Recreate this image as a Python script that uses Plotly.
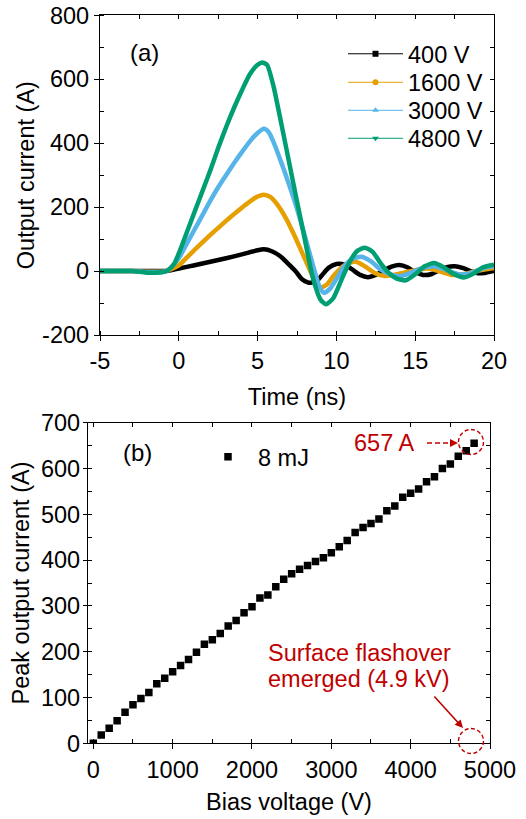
import plotly.graph_objects as go

W, H = 526, 819
FONT = "Liberation Sans, Arial, sans-serif"
RED = "#C00000"
FS = 23.5


def px(x):
    return x / W


def py(y):
    return 1 - y / H


# ---------------- data: panel (a) ----------------
t_400 = [-5, -4, -3, -2, -1, -0.77, 0, 1, 2, 3, 4, 5, 5.4, 5.9, 6.4, 6.9, 7.4, 7.8, 8.2, 8.7, 9.1,
         9.5, 10, 10.5, 11, 11.5, 12, 12.5, 13, 13.5, 14, 14.5, 15, 15.5, 16, 16.5, 17, 17.5, 18,
         18.5, 19, 19.5, 20]
i_400 = [0, 0, 0, 0, 0, 0, 8, 18, 29, 40, 52, 65, 68, 62, 48, 25, 0, -25, -36, -33, -12,
         10, 22, 20, 5, -12, -19, -12, 2, 14, 19, 12, -3, -12, -10, 2, 12, 15, 10,
         0, -7, -5, 0]

t_1600 = [-5, -4, -3, -2, -1, -0.7, 0, 0.5, 1, 1.5, 2, 2.5, 3, 3.5, 4, 4.5, 5, 5.4, 5.8, 6.3,
          6.8, 7.3, 7.8, 8.3, 8.7, 9, 9.4, 9.9, 10.5, 11.2, 11.8, 12.4, 13, 13.6, 14.3, 15,
          15.8, 16.5, 17.3, 18, 18.7, 19.4, 20]
i_1600 = [0, 0, 0, -2, -2, 2, 18, 42, 66, 90, 113, 135, 157, 178, 198, 217, 233, 239, 232, 205,
          165, 115, 60, 5, -38, -52, -42, -10, 18, 30, 15, -5, -15, -12, -5, 3,
          8, 0, -12, -10, -2, 5, 10]

t_3000 = [-5, -4, -3, -2, -1, -0.7, 0, 0.5, 1, 1.5, 2, 2.5, 3, 3.5, 4, 4.5, 5, 5.4, 5.7, 6,
          6.5, 7, 7.5, 8, 8.5, 8.9, 9.2, 9.6, 10, 10.5, 11, 11.6, 12.2, 12.8, 13.4, 14, 14.6,
          15.2, 15.8, 16.3, 17, 17.8, 18.4, 19, 19.5, 20]
i_3000 = [0, 0, 0, -3, -2, 2, 40, 85, 130, 175, 220, 262, 300, 337, 372, 405, 432, 445, 435, 405,
          340, 270, 195, 110, 20, -45, -68, -55, -25, 15, 38, 45, 30, 5, -10, -16, -8,
          5, 13, 14, 3, -10, -8, 3, 12, 15]

t_4800 = [-5, -4, -3, -2.5, -2, -1.5, -1, -0.7, -0.3, 0, 0.5, 1, 1.5, 2, 2.5, 3, 3.5, 4, 4.5,
          5, 5.3, 5.6, 6, 6.5, 7, 7.5, 8, 8.5, 9, 9.35, 9.8, 10.3, 10.8, 11.3, 11.8, 12.3,
          12.8, 13.3, 13.8, 14.4, 15, 15.6, 16.2, 16.8, 17.4, 18.1, 18.7, 19.3, 20]
i_4800 = [0, 0, 0, -2, -5, -5, -3, 2, 22, 55, 120, 185, 250, 315, 385, 450, 510, 565, 615,
          645, 652, 645, 580, 462, 340, 218, 98, -20, -90, -104, -85, -30, 25, 62, 73, 60,
          25, -5, -23, -29, -10, 15, 25, 12, -8, -20, -8, 12, 20]

series_names = ["400 V", "1600 V", "3000 V", "4800 V"]
series_colors = ["#000000", "#E69F00", "#56B4E9", "#009E73"]
series_symbols = ["square", "circle", "triangle-up", "triangle-down"]
series_t = [t_400, t_1600, t_3000, t_4800]
series_i = [i_400, i_1600, i_3000, i_4800]

time_ticks = [-5, 0, 5, 10, 15, 20]
time_ticktext = ["-5", "0", "5", "10", "15", "20"]
cur_ticks = [-200, 0, 200, 400, 600, 800]
cur_ticktext = ["-200", "0", "200", "400", "600", "800"]

# ---------------- data: panel (b) ----------------
bias_v = [0, 100, 200, 300, 400, 500, 600, 700, 800, 900, 1000, 1100, 1200, 1300, 1400, 1500,
          1600, 1700, 1800, 1900, 2000, 2100, 2200, 2300, 2400, 2500, 2600, 2700, 2800, 2900,
          3000, 3100, 3200, 3300, 3400, 3500, 3600, 3700, 3800, 3900, 4000, 4100, 4200, 4300,
          4400, 4500, 4600, 4700, 4800]
peak_i = [0, 18, 33, 49, 68, 84, 98, 111, 130, 142, 156, 170, 183, 199, 216, 226,
          240, 256, 268, 285, 298, 317, 324, 342, 358, 370, 380, 388, 397, 405,
          416, 429, 443, 460, 471, 480, 490, 508, 518, 537, 546, 555, 571, 582,
          600, 610, 627, 639, 655]

fig = go.Figure()

for t, i, c in zip(series_t, series_i, series_colors):
    fig.add_trace(go.Scatter(x=t, y=i, mode="lines", showlegend=False, hoverinfo="skip",
                             line=dict(color=c, width=4.5, shape="spline", smoothing=0.6),
                             xaxis="x", yaxis="y"))

# one legend box per entry so the row spacing can follow the reference
legend_ids = ["legend", "legend3", "legend4", "legend5"]
legend_rows_y = [54, 82.5, 110.5, 138.5]
for n, c, s, lg in zip(series_names, series_colors, series_symbols, legend_ids):
    fig.add_trace(go.Scatter(x=[None], y=[None], mode="lines+markers", name=n,
                             line=dict(color=c, width=1),
                             marker=dict(symbol=s, size=6, color=c),
                             xaxis="x", yaxis="y", legend=lg))

fig.add_trace(go.Scatter(x=bias_v, y=peak_i, mode="markers", name="8 mJ",
                         marker=dict(symbol="square", size=7.5, color="black"),
                         xaxis="x2", yaxis="y2", legend="legend2"))

# dummy traces so the mirrored tick axes get drawn
fig.add_trace(go.Scatter(x=[None], y=[None], xaxis="x3", yaxis="y3", showlegend=False,
                         hoverinfo="skip"))
fig.add_trace(go.Scatter(x=[None], y=[None], xaxis="x4", yaxis="y4", showlegend=False,
                         hoverinfo="skip"))

LW = 1.3
common = dict(showgrid=False, zeroline=False, showline=True, linecolor="black", linewidth=LW,
              tickcolor="black", tickwidth=LW, tickfont=dict(size=FS, family=FONT, color="black"))

xdom1 = [px(100), px(494)]
ydom1 = [py(335), py(15.3)]
xdom2 = [px(88), px(490)]
ydom2 = [py(743.3), py(422.7)]

legend_common = dict(bgcolor="rgba(0,0,0,0)", font=dict(size=FS, family=FONT), itemwidth=55,
                     xanchor="left", yanchor="middle", tracegroupgap=0)

fig.update_layout(
    width=W, height=H, autosize=False,
    margin=dict(l=0, r=0, t=0, b=0),
    paper_bgcolor="white", plot_bgcolor="white",
    font=dict(family=FONT, size=FS, color="black"),
    xaxis=dict(domain=xdom1, anchor="y", range=[-5, 20], tickmode="array", tickvals=time_ticks,
               ticktext=time_ticktext, ticks="outside", ticklen=5,
               minor=dict(dtick=2.5, tick0=0, ticks="inside", ticklen=4, tickcolor="black",
                          tickwidth=LW),
               title=dict(text="Time (ns)", font=dict(size=FS), standoff=15), automargin=False,
               **common),
    yaxis=dict(domain=ydom1, anchor="x", range=[-200, 800], tickmode="array", tickvals=cur_ticks,
               ticktext=cur_ticktext, ticks="outside", ticklen=5,
               minor=dict(dtick=100, tick0=0, ticks="inside", ticklen=4, tickcolor="black",
                          tickwidth=LW),
               title=dict(text="Output current (A)", font=dict(size=FS), standoff=0),
               automargin=False, **common),
    xaxis3=dict(overlaying="x", anchor="y", side="top", range=[-5, 20], tickmode="linear",
                tick0=0, dtick=2.5, ticks="inside", ticklen=4, showticklabels=False, **common),
    yaxis3=dict(overlaying="y", anchor="x", side="right", range=[-200, 800], tickmode="linear",
                tick0=0, dtick=100, ticks="inside", ticklen=4, showticklabels=False, **common),
    xaxis2=dict(domain=xdom2, anchor="y2", range=[-67, 5000], tickmode="linear", tick0=0, dtick=1000,
                ticks="outside", ticklen=5,
                minor=dict(dtick=500, ticks="inside", ticklen=4, tickcolor="black", tickwidth=LW),
                title=dict(text="Bias voltage (V)", font=dict(size=FS), standoff=11),
                automargin=False, **common),
    yaxis2=dict(domain=ydom2, anchor="x2", range=[0, 700], tickmode="linear", tick0=0, dtick=100,
                ticks="outside", ticklen=4, ticklabelstandoff=-2,
                minor=dict(dtick=50, ticks="inside", ticklen=4, tickcolor="black", tickwidth=LW),
                title=dict(text="Peak output current (A)", font=dict(size=FS), standoff=4),
                automargin=False, **common),
    xaxis4=dict(overlaying="x2", anchor="y2", side="top", range=[-67, 5000], tickmode="linear",
                tick0=0, dtick=500, ticks="inside", ticklen=4, showticklabels=False, **common),
    yaxis4=dict(overlaying="y2", anchor="x2", side="right", range=[0, 700], tickmode="linear",
                tick0=0, dtick=50, ticks="inside", ticklen=4, showticklabels=False, **common),
    legend2=dict(x=px(198), y=py(457), xanchor="left", yanchor="middle", bgcolor="rgba(0,0,0,0)",
                 font=dict(size=FS, family=FONT), itemwidth=50),
)
for lg, yy in zip(legend_ids, legend_rows_y):
    fig.update_layout({lg: dict(x=px(343), y=py(yy), **legend_common)})

annotations = [
    dict(x=px(144), y=py(53), text="(a)", font=dict(size=24)),
    dict(x=px(137), y=py(452), text="(b)", font=dict(size=24)),
    dict(x=px(384), y=py(443), text="657 A", font=dict(size=FS, color=RED)),
    dict(x=px(359), y=py(653), text="Surface flashover", font=dict(size=FS, color=RED)),
    dict(x=px(359), y=py(679), text="emerged (4.9 kV)", font=dict(size=FS, color=RED)),
]
for a in annotations:
    a.update(xref="paper", yref="paper", showarrow=False, xanchor="center", yanchor="middle")

# arrows
annotations.append(dict(xref="paper", yref="paper", x=px(463), y=py(728), ax=-30, ay=-33,
                        text="", showarrow=True, arrowhead=2, arrowsize=1, arrowwidth=1.6,
                        arrowcolor=RED))
annotations.append(dict(xref="paper", yref="paper", x=px(458), y=py(443), ax=-8, ay=0,
                        text="", showarrow=True, arrowhead=2, arrowsize=1, arrowwidth=1.6,
                        arrowcolor=RED))
fig.update_layout(annotations=annotations)

r = 12.5
shapes = [
    dict(type="line", xref="paper", yref="paper", x0=px(427), x1=px(452), y0=py(443), y1=py(443),
         line=dict(color=RED, width=1.6, dash="5px,3px")),
    dict(type="circle", xref="paper", yref="paper", x0=px(471 - r), x1=px(471 + r),
         y0=py(442 + r), y1=py(442 - r), line=dict(color=RED, width=1.4, dash="4px,2.5px")),
    dict(type="circle", xref="paper", yref="paper", x0=px(471 - r), x1=px(471 + r),
         y0=py(741 + r), y1=py(741 - r), line=dict(color=RED, width=1.4, dash="4px,2.5px")),
]
fig.update_layout(shapes=shapes)

fig.write_html("out.html", config={"displayModeBar": False},
               post_script="document.body.style.margin='0';")
